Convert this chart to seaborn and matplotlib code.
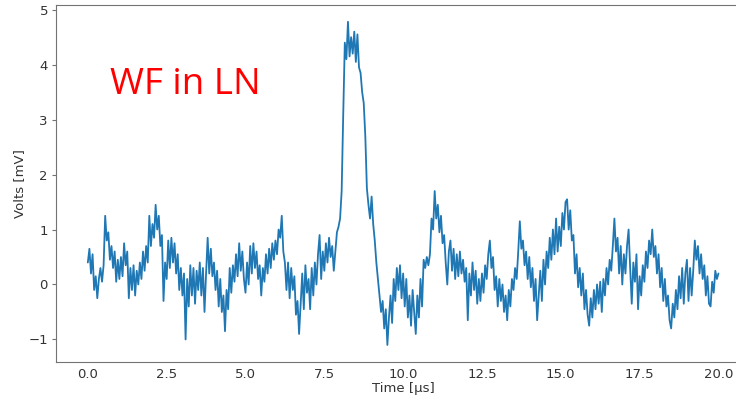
import numpy as np
import pandas as pd
import matplotlib
matplotlib.use("Agg")
import matplotlib.pyplot as plt
import seaborn as sns

# Sampling of the trace (µs)
t_start, t_stop = 0.0, 20.0

# Voltage readings (mV), 0.05 µs apart, one row per µs
volts = [
    0.40, 0.65, 0.20, 0.55, -0.10, 0.15, -0.25, 0.10, 0.30, 0.05, 0.35, 1.25, 0.80, 0.95, 0.45, 0.70, 0.30, 0.60, 0.05, 0.45,
    0.10, 0.50, 0.15, 0.75, 0.35, 0.60, -0.25, 0.30, -0.10, 0.35, -0.20, 0.25, 0.00, 0.40, 0.10, 0.60, 0.25, 0.70, 0.40, 1.25,
    0.70, 1.10, 0.85, 1.45, 1.00, 1.25, 0.70, 0.90, -0.30, 0.40, 0.10, 0.80, 0.30, 0.85, 0.40, 0.75, 0.20, 0.55, -0.10, 0.30,
    -0.20, 0.20, -1.00, 0.10, -0.40, 0.35, -0.20, 0.30, -0.35, 0.25, -0.10, 0.40, -0.20, 0.30, -0.50, 0.20, 0.85, 0.20, 0.65, 0.15,
    0.40, -0.10, 0.25, -0.40, 0.10, -0.50, -0.20, -0.85, -0.10, -0.45, 0.30, -0.15, 0.35, 0.05, 0.55, 0.15, 0.75, 0.25, 0.60, 0.10,
    -0.15, 0.40, 0.00, 0.70, 0.20, 0.75, 0.30, 0.60, 0.10, 0.35, -0.20, 0.30, 0.05, 0.55, 0.20, 0.65, 0.30, 0.75, 0.45, 0.80,
    0.55, 1.00, 0.85, 1.25, 0.60, 0.40, -0.10, 0.40, -0.25, 0.30, -0.10, 0.15, -0.55, -0.30, -0.90, -0.35, 0.20, -0.45, 0.35, -0.15,
    0.10, -0.45, 0.30, -0.20, 0.40, 0.00, 0.55, 0.90, 0.10, 0.60, 0.25, 0.75, 0.40, 0.85, 0.50, 0.70, 0.25, 0.60, 0.95, 1.05,
    1.20, 1.70, 3.10, 4.40, 4.10, 4.78, 4.15, 4.50, 4.20, 4.60, 4.05, 4.55, 3.95, 3.85, 3.50, 3.30, 2.70, 1.75, 1.45, 1.20,
    1.60, 1.10, 0.80, 0.40, 0.10, -0.20, -0.50, -0.30, -0.80, -0.45, -1.10, -0.60, -0.20, -0.70, 0.10, -0.30, 0.30, -0.10, 0.35, -0.25,
    0.20, -0.40, 0.10, -0.60, -0.20, -0.75, -0.10, -0.50, -0.90, -0.20, -0.60, 0.10, -0.40, 0.45, 0.30, 0.50, 0.35, 0.55, 1.20, 1.00,
    1.70, 1.20, 1.45, 0.95, 1.25, 0.75, 0.90, 0.40, 0.00, 0.60, 0.80, 0.25, 0.65, 0.10, 0.55, 0.15, 0.60, 0.20, 0.45, 0.05,
    0.30, -0.65, 0.20, -0.20, 0.40, -0.10, 0.25, -0.35, 0.10, -0.30, 0.20, -0.15, 0.35, 0.10, 0.55, 0.80, 0.30, 0.50, -0.10, 0.15,
    -0.40, 0.10, -0.30, 0.00, -0.50, -0.20, -0.65, -0.10, -0.40, 0.10, -0.10, 0.30, 0.10, 0.60, 1.15, 0.65, 0.80, 0.35, 0.60, 0.10,
    0.50, -0.05, 0.30, -0.30, 0.10, -0.65, -0.20, 0.25, -0.30, 0.45, 0.00, 0.60, 0.30, 0.85, 0.45, 1.00, 0.55, 1.20, 0.60, 1.05,
    0.70, 1.30, 1.00, 1.50, 1.55, 1.00, 1.35, 0.80, 0.90, 0.20, 0.55, -0.05, 0.30, -0.20, 0.20, -0.45, -0.10, -0.55, -0.75, -0.25,
    -0.60, -0.10, -0.45, 0.00, -0.35, 0.05, -0.50, 0.10, -0.20, 0.30, 0.00, 0.45, 0.25, 0.70, 1.20, 0.60, 0.85, 0.20, 0.70, 0.00,
    0.55, 0.20, 0.70, 1.00, 0.30, -0.35, 0.40, 0.05, 0.55, -0.45, 0.15, -0.20, 0.35, 0.05, 0.60, 0.30, 0.80, 0.55, 1.00, 0.50,
    0.70, 0.20, 0.55, -0.05, 0.30, -0.30, 0.10, -0.40, -0.20, -0.65, -0.80, -0.35, -0.60, -0.10, -0.45, 0.15, -0.25, 0.30, -0.35, 0.20,
    0.45, -0.30, 0.30, -0.20, 0.25, 0.80, 0.45, 0.70, 0.20, 0.55, 0.10, 0.35, -0.20, 0.15, -0.35, -0.40, 0.05, -0.15, 0.25, 0.10,
    0.20,
]

time = np.linspace(t_start, t_stop, len(volts))
df = pd.DataFrame({"Time [µs]": time, "Volts [mV]": volts})

sns.set_style("ticks")
plt.rcParams["font.family"] = ["DejaVu Sans"]
plt.rcParams["axes.edgecolor"] = "0.45"
plt.rcParams["xtick.color"] = "0.45"
plt.rcParams["ytick.color"] = "0.45"
plt.rcParams["xtick.labelcolor"] = "0.2"
plt.rcParams["ytick.labelcolor"] = "0.2"

fig = plt.figure(figsize=(7.36, 4.01), dpi=100)
ax = fig.add_axes([0.0765, 0.0973, 0.9425, 0.8895])

sns.lineplot(data=df, x="Time [µs]", y="Volts [mV]", ax=ax, color="#1f77b4",
             linewidth=1.3, estimator=None)

ax.set_xlim(-1.0, 21.0)
ax.set_ylim(-1.41, 5.08)
ax.set_xticks([0, 2.5, 5, 7.5, 10, 12.5, 15, 17.5, 20])
ax.set_xticklabels(["0.0", "2.5", "5.0", "7.5", "10.0", "12.5", "15.0", "17.5", "20.0"])
ax.set_yticks([-1, 0, 1, 2, 3, 4, 5])
ax.set_yticklabels(["\u22121", "0", "1", "2", "3", "4", "5"])
ax.tick_params(axis="y", labelsize=9.5, length=3, width=0.8, pad=3)
ax.tick_params(axis="x", labelsize=9.5, length=0, pad=4)
ax.set_xlabel("Time [µs]", fontsize=9.5, color="0.2", labelpad=1)
ax.set_ylabel("Volts [mV]", fontsize=9.5, color="0.2", labelpad=2)

ax.text(0.7, 3.46, "WF in LN", color="red", fontsize=26.5, family=["Open Sans", "DejaVu Sans"],
        ha="left", va="baseline")

fig.savefig("out.png", dpi=100)
